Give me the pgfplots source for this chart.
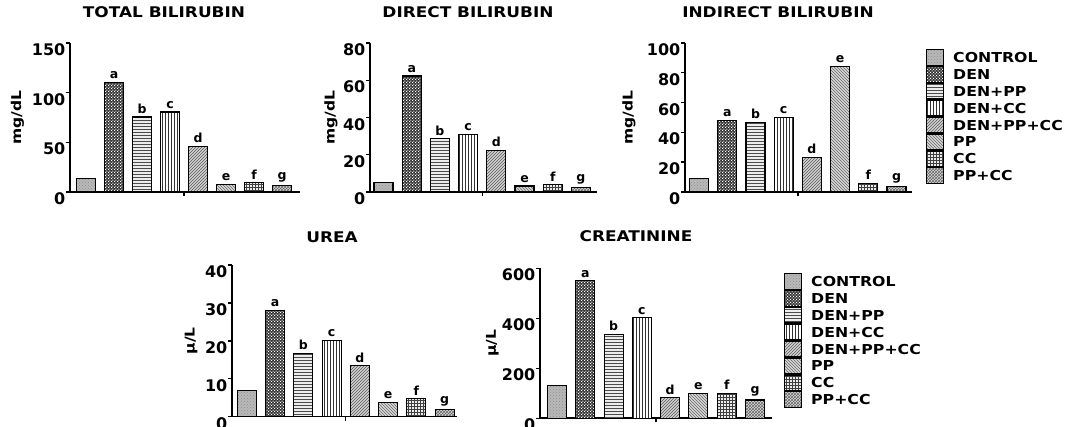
\documentclass[border=0pt]{standalone}
\usepackage{fontspec}
\setmainfont{DejaVu Sans}
\newfontfamily\wfont{DejaVu Sans}[FakeStretch=1.15]
\usepackage{pgfplots}
\pgfplotsset{compat=1.18}
\usetikzlibrary{patterns}

\pgfdeclarepatternformonly{wdots}{\pgfqpoint{0pt}{0pt}}{\pgfqpoint{3.2pt}{3.2pt}}{\pgfqpoint{3.2pt}{3.2pt}}{%
  \pgfpathrectangle{\pgfqpoint{0.2pt}{0.2pt}}{\pgfqpoint{1.2pt}{1.2pt}}%
  \pgfpathrectangle{\pgfqpoint{1.8pt}{1.8pt}}{\pgfqpoint{1.2pt}{1.2pt}}%
  \pgfusepath{fill}}

\pgfplotsset{
 barbase/.style={draw=black, line width=1.1pt, bar shift=0pt, bar width=19pt},
 s1/.style={barbase, fill=gray!55, postaction={pattern=crosshatch dots, pattern color=black!45}},
 s2/.style={barbase, fill=black!80, postaction={pattern=wdots, pattern color=white}},
 s3/.style={barbase, fill=gray!15, postaction={pattern=horizontal lines, pattern color=black!70}},
 s4/.style={barbase, fill=white, postaction={pattern=vertical lines, pattern color=black!80}},
 s5/.style={barbase, fill=gray!35, postaction={pattern=north east lines, pattern color=black!65}},
 s6/.style={barbase, fill=gray!30, postaction={pattern=north west lines, pattern color=black!60}},
 s7/.style={barbase, fill=gray!15, postaction={pattern=grid, pattern color=black!75}},
 s8/.style={barbase, fill=gray!30, postaction={pattern=crosshatch, pattern color=black!60}},
 lt/.style={nodes near coords={#1}},
 panel/.style={scale only axis, axis lines=left, axis line style={-, line width=1.6pt},
   ybar, bar width=19pt, bar shift=0pt, ymin=0, enlargelimits=false, clip=false,
   xtick={3.5}, xticklabels={}, major tick length=4pt,
   tick style={line width=1.4pt, black}, tick align=outside,
   /pgf/number format/assume math mode=true,
   yticklabel style={anchor=north east, inner sep=0.5pt, font=\bfseries\fontsize{16}{16}\selectfont},
   every node near coord/.append style={font=\bfseries\fontsize{12.5}{12.5}\selectfont, anchor=south, inner sep=0pt, yshift=3pt},
   title style={font=\wfont\bfseries\fontsize{14.7}{15}\selectfont, anchor=center},
   ylabel style={font=\wfont\bfseries\fontsize{13.5}{14}\selectfont, anchor=center}},
 leg/.style 2 args={legend cell align=left,
   legend style={at={(1,1)}, anchor=north west, xshift=#1, yshift=#2, draw=none, fill=none,
     inner sep=0pt, outer sep=0pt, row sep=0pt,
     font=\wfont\bfseries\fontsize{13.7}{14}\selectfont,
     nodes={inner sep=0pt, text height=13.45pt, text depth=3.45pt},
     /tikz/every odd column/.append style={column sep=9pt}},
   legend image code/.code={\draw[##1, line width=1.2pt] (0pt,-7.85pt) rectangle (17pt,7.85pt);}}
}

\begin{document}
\begin{tikzpicture}
\useasboundingbox (0,0) rectangle (1065pt,427pt);

% TOTAL BILIRUBIN
\begin{axis}[panel, at={(70pt,235pt)}, anchor=south west, width=230pt, height=149pt,
  xmin=-0.571, xmax=7.643, ymax=150, ytick={0,50,100,150},
  ylabel={mg/dL}, ylabel style={at={(axis description cs:-0.228,0.5)}},
  title={TOTAL BILIRUBIN}, title style={at={(axis description cs:0.4087,1.168)}}]
\addplot[s1] coordinates {(0,14)};
\addplot[s2,lt=a] coordinates {(1,110)};
\addplot[s3,lt=b] coordinates {(2,75.5)};
\addplot[s4,lt=c] coordinates {(3,80.5)};
\addplot[s5,lt=d] coordinates {(4,45.6)};
\addplot[s6,lt=e] coordinates {(5,7.7)};
\addplot[s7,lt=f] coordinates {(6,9.4)};
\addplot[s8,lt=g] coordinates {(7,6.7)};
\end{axis}

% DIRECT BILIRUBIN
\begin{axis}[panel, at={(370pt,235pt)}, anchor=south west, width=227pt, height=149pt,
  xmin=-0.48, xmax=7.57, ymax=80, ytick={0,20,40,60,80},
  ylabel={mg/dL}, ylabel style={at={(axis description cs:-0.172,0.5)}},
  title={DIRECT BILIRUBIN}, title style={at={(axis description cs:0.4317,1.168)}}]
\addplot[s1] coordinates {(0,5)};
\addplot[s2,lt=a] coordinates {(1,62.3)};
\addplot[s3,lt=b] coordinates {(2,28.5)};
\addplot[s4,lt=c] coordinates {(3,30.8)};
\addplot[s5,lt=d] coordinates {(4,22.2)};
\addplot[s6,lt=e] coordinates {(5,3.2)};
\addplot[s7,lt=f] coordinates {(6,3.9)};
\addplot[s8,lt=g] coordinates {(7,2.3)};
\end{axis}

% INDIRECT BILIRUBIN
\begin{axis}[panel, leg={14pt}{-6pt}, at={(685pt,235pt)}, anchor=south west, width=227pt, height=149pt,
  xmin=-0.5, xmax=7.55, ymax=100, ytick={0,20,40,60,80,100},
  ylabel={mg/dL}, ylabel style={at={(axis description cs:-0.247,0.5)}},
  title={INDIRECT BILIRUBIN}, title style={at={(axis description cs:0.4097,1.168)}}]
\addplot[s1] coordinates {(0,9.2)};
\addplot[s2,lt=a] coordinates {(1,47.9)};
\addplot[s3,lt=b] coordinates {(2,46.8)};
\addplot[s4,lt=c] coordinates {(3,49.9)};
\addplot[s5,lt=d] coordinates {(4,23.3)};
\addplot[s6,lt=e] coordinates {(5,84.1)};
\addplot[s7,lt=f] coordinates {(6,5.8)};
\addplot[s8,lt=g] coordinates {(7,3.6)};
\legend{CONTROL,DEN,DEN+PP,DEN+CC,DEN+PP+CC,PP,CC,PP+CC}
\end{axis}

% UREA
\begin{axis}[panel, at={(232pt,10.3pt)}, anchor=south west, width=225pt, height=151.7pt,
  xmin=-0.53, xmax=7.44, ymax=40, ytick={0,10,20,30,40},
  ylabel={µ/L}, ylabel style={at={(axis description cs:-0.182,0.5)}},
  title={UREA}, title style={at={(axis description cs:0.4444,1.145)}}]
\addplot[s1] coordinates {(0,7.0)};
\addplot[s2,lt=a] coordinates {(1,28.0)};
\addplot[s3,lt=b] coordinates {(2,16.7)};
\addplot[s4,lt=c] coordinates {(3,20.2)};
\addplot[s5,lt=d] coordinates {(4,13.4)};
\addplot[s6,lt=e] coordinates {(5,3.7)};
\addplot[s7,lt=f] coordinates {(6,4.7)};
\addplot[s8,lt=g] coordinates {(7,1.8)};
\end{axis}

% CREATININE
\begin{axis}[panel, leg={12pt}{-4.7pt}, at={(540pt,8.7pt)}, anchor=south west, width=232pt, height=150pt,
  xmin=-0.6, xmax=7.6, ymax=600, ytick={0,200,400,600},
  ylabel={µ/L}, ylabel style={at={(axis description cs:-0.205,0.5)}},
  title={CREATININE}, title style={at={(axis description cs:0.4138,1.177)}}]
\addplot[s1] coordinates {(0,132)};
\addplot[s2,lt=a] coordinates {(1,550)};
\addplot[s3,lt=b] coordinates {(2,336)};
\addplot[s4,lt=c] coordinates {(3,402)};
\addplot[s5,lt=d] coordinates {(4,82)};
\addplot[s6,lt=e] coordinates {(5,100)};
\addplot[s7,lt=f] coordinates {(6,100)};
\addplot[s8,lt=g] coordinates {(7,73)};
\legend{CONTROL,DEN,DEN+PP,DEN+CC,DEN+PP+CC,PP,CC,PP+CC}
\end{axis}
\end{tikzpicture}
\end{document}
